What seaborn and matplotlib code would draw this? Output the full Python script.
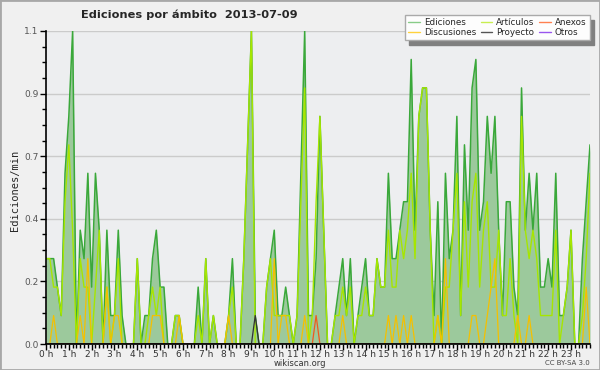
"""Ediciones por ámbito: edits per minute on 2013-07-09, 10-minute bins"""
import matplotlib

matplotlib.use("Agg")
from matplotlib import pyplot as plt
from matplotlib.lines import Line2D
from matplotlib.patches import Rectangle
from matplotlib.ticker import MultipleLocator
import numpy as np
import pandas as pd
import seaborn as sns

# one value per 10-minute bin, 6 bins per hour (rows = hours)
ediciones = [
    0.3, 0.3, 0.3, 0.2, 0.1, 0.6,  # 0 h
    0.8, 1.1, 0.0, 0.4, 0.3, 0.6,  # 1 h
    0.2, 0.6, 0.4, 0.0, 0.4, 0.1,  # 2 h
    0.1, 0.4, 0.1, 0.0, 0.0, 0.0,  # 3 h
    0.3, 0.0, 0.1, 0.1, 0.3, 0.4,  # 4 h
    0.2, 0.2, 0.0, 0.0, 0.1, 0.1,  # 5 h
    0.0, 0.0, 0.0, 0.0, 0.2, 0.0,  # 6 h
    0.3, 0.0, 0.1, 0.0, 0.0, 0.0,  # 7 h
    0.1, 0.3, 0.0, 0.0, 0.3, 0.7,  # 8 h
    1.1, 0.1, 0.0, 0.0, 0.2, 0.3,  # 9 h
    0.4, 0.1, 0.1, 0.2, 0.1, 0.0,  # 10 h
    0.1, 0.6, 1.1, 0.1, 0.1, 0.3,  # 11 h
    0.8, 0.4, 0.0, 0.0, 0.1, 0.2,  # 12 h
    0.3, 0.1, 0.3, 0.0, 0.1, 0.2,  # 13 h
    0.3, 0.1, 0.1, 0.3, 0.2, 0.2,  # 14 h
    0.6, 0.3, 0.3, 0.4, 0.5, 0.5,  # 15 h
    1.0, 0.4, 0.8, 0.9, 0.9, 0.4,  # 16 h
    0.1, 0.5, 0.0, 0.6, 0.3, 0.4,  # 17 h
    0.8, 0.1, 0.7, 0.4, 0.9, 1.0,  # 18 h
    0.4, 0.5, 0.8, 0.6, 0.8, 0.4,  # 19 h
    0.1, 0.5, 0.5, 0.2, 0.1, 0.9,  # 20 h
    0.4, 0.6, 0.4, 0.6, 0.2, 0.2,  # 21 h
    0.3, 0.2, 0.6, 0.1, 0.1, 0.2,  # 22 h
    0.4, 0.0, 0.0, 0.3, 0.5, 0.7,  # 23 h
]
articulos = [
    0.3, 0.3, 0.2, 0.2, 0.1, 0.5,
    0.7, 0.4, 0.0, 0.3, 0.2, 0.2,
    0.0, 0.2, 0.4, 0.0, 0.2, 0.0,
    0.1, 0.3, 0.0, 0.0, 0.0, 0.0,
    0.3, 0.0, 0.0, 0.1, 0.2, 0.1,
    0.2, 0.0, 0.0, 0.0, 0.1, 0.1,
    0.0, 0.0, 0.0, 0.0, 0.1, 0.0,
    0.3, 0.0, 0.1, 0.0, 0.0, 0.0,
    0.1, 0.2, 0.0, 0.0, 0.3, 0.7,
    1.1, 0.0, 0.0, 0.0, 0.2, 0.3,
    0.1, 0.1, 0.1, 0.1, 0.1, 0.0,
    0.1, 0.5, 0.9, 0.0, 0.1, 0.5,
    0.8, 0.4, 0.0, 0.0, 0.1, 0.1,
    0.2, 0.1, 0.2, 0.0, 0.1, 0.1,
    0.2, 0.1, 0.1, 0.3, 0.2, 0.2,
    0.4, 0.2, 0.2, 0.4, 0.3, 0.4,
    0.6, 0.3, 0.8, 0.9, 0.9, 0.4,
    0.0, 0.1, 0.0, 0.2, 0.2, 0.4,
    0.6, 0.1, 0.5, 0.2, 0.5, 0.6,
    0.2, 0.4, 0.5, 0.2, 0.2, 0.4,
    0.1, 0.1, 0.3, 0.1, 0.0, 0.8,
    0.4, 0.3, 0.4, 0.3, 0.1, 0.1,
    0.1, 0.1, 0.4, 0.0, 0.1, 0.2,
    0.4, 0.0, 0.0, 0.1, 0.3, 0.6,
]
discusiones = [
    0.0, 0.0, 0.1, 0.0, 0.0, 0.0,
    0.0, 0.0, 0.0, 0.1, 0.0, 0.3,
    0.0, 0.0, 0.0, 0.0, 0.2, 0.0,
    0.1, 0.1, 0.0, 0.0, 0.0, 0.0,
    0.0, 0.0, 0.0, 0.0, 0.1, 0.1,
    0.1, 0.0, 0.0, 0.0, 0.0, 0.1,
    0.0, 0.0, 0.0, 0.0, 0.0, 0.0,
    0.0, 0.0, 0.0, 0.0, 0.0, 0.0,
    0.1, 0.0, 0.0, 0.0, 0.0, 0.0,
    0.0, 0.0, 0.0, 0.0, 0.0, 0.0,
    0.3, 0.0, 0.1, 0.1, 0.0, 0.0,
    0.0, 0.0, 0.1, 0.0, 0.0, 0.0,
    0.0, 0.0, 0.0, 0.0, 0.0, 0.0,
    0.1, 0.0, 0.0, 0.0, 0.0, 0.0,
    0.0, 0.0, 0.0, 0.0, 0.0, 0.0,
    0.1, 0.0, 0.1, 0.0, 0.1, 0.0,
    0.1, 0.0, 0.0, 0.0, 0.0, 0.0,
    0.0, 0.1, 0.0, 0.3, 0.0, 0.0,
    0.0, 0.0, 0.0, 0.0, 0.1, 0.1,
    0.0, 0.0, 0.1, 0.2, 0.3, 0.0,
    0.0, 0.0, 0.0, 0.0, 0.1, 0.0,
    0.0, 0.1, 0.0, 0.0, 0.0, 0.0,
    0.0, 0.0, 0.0, 0.0, 0.0, 0.0,
    0.0, 0.0, 0.0, 0.0, 0.2, 0.0,
]
# sparse series: bin index -> value, every other bin is 0
anexos_nonzero = {71: 0.1}
proyecto_nonzero = {55: 0.1}
otros_nonzero = {}

hour_labels = [f"{h} h" for h in range(24)]

bins = np.arange(len(ediciones))
df = pd.DataFrame(
    {
        "bin": bins,
        "Ediciones": ediciones,
        "Artículos": articulos,
        "Discusiones": discusiones,
        "Anexos": [anexos_nonzero.get(i, 0.0) for i in bins],
        "Proyecto": [proyecto_nonzero.get(i, 0.0) for i in bins],
        "Otros": [otros_nonzero.get(i, 0.0) for i in bins],
    }
)

sns.set_style("ticks")
plt.rcParams["font.family"] = ["DejaVu Sans"]

fig = plt.figure(figsize=(6, 3.7), dpi=100, facecolor="#f0f0f0")
fig.patches.append(
    Rectangle((0, 0), 1, 1, transform=fig.transFigure, fill=False,
              edgecolor="#a8a8a8", lw=2)
)
ax = fig.add_axes([46 / 600, 26 / 370, 544 / 600, 313 / 370])
ax.set_facecolor("#edeef0")

ax.fill_between(df["bin"], df["Ediciones"], color="#9cc99c", lw=0, zorder=2)
lines = [
    ("Ediciones", "#3aa83a", 1.1),
    ("Artículos", "#a6e600", 1.0),
    ("Discusiones", "#f5c000", 0.9),
    ("Anexos", "#f05a1e", 0.9),
    ("Proyecto", "#333333", 0.9),
    ("Otros", "#9933ee", 0.9),
]
for col, color, lw in lines:
    sns.lineplot(data=df, x="bin", y=col, color=color, lw=lw, ax=ax,
                 zorder=3, legend=False)

ax.set_xlim(0, len(ediciones) - 1)
ax.set_ylim(0, 1.1)
yticks = np.linspace(0, 1.1, 6)
ax.set_yticks(yticks)
ax.set_yticklabels([f"{v:.1f}" for v in yticks])
ax.yaxis.set_minor_locator(MultipleLocator(0.055))
ax.set_xticks(np.arange(0, 144, 6))
ax.set_xticklabels(hour_labels)
ax.xaxis.set_minor_locator(MultipleLocator(1))
ax.set_xlabel("")
ax.set_ylabel("")
ax.grid(axis="y", color="#cbcbcb", lw=1, zorder=1)
ax.set_axisbelow(True)
for side in ("top", "right"):
    ax.spines[side].set_visible(False)
for side in ("left", "bottom"):
    ax.spines[side].set_color("black")
    ax.spines[side].set_linewidth(1.2)
    ax.spines[side].set_zorder(5)
ax.tick_params(axis="both", which="major", length=4.5, width=1, color="black",
               pad=1)
ax.tick_params(axis="both", which="minor", length=3, width=1, color="black")
ax.tick_params(axis="y", labelsize=6.5, labelcolor="#555555")
ax.tick_params(axis="x", labelsize=6.5, labelcolor="#333333", pad=-0.5)

fig.text(189 / 600, 1 - 15 / 370, "Ediciones por ámbito  2013-07-09",
         ha="center", va="center", fontsize=8.2, fontweight="bold")
fig.text(15 / 600, 1 - 190 / 370, "Ediciones/min", rotation=90,
         family="DejaVu Sans Mono", fontsize=7.5, ha="center", va="center")
fig.text(300 / 600, 1 - 363 / 370, "wikiscan.org", ha="center", va="center",
         fontsize=6, color="#333333")
fig.text(590 / 600, 1 - 363 / 370, "CC BY-SA 3.0", ha="right", va="center",
         fontsize=5, color="#444444")

legend_colors = {
    "Ediciones": "#88cc88",
    "Discusiones": "#ffd23c",
    "Artículos": "#c8ee50",
    "Proyecto": "#555555",
    "Anexos": "#ff8050",
    "Otros": "#9955ee",
}
handles = [Line2D([], [], color=c, lw=1) for c in legend_colors.values()]
fig.legend(handles, list(legend_colors.keys()), ncol=3, loc="upper right",
           bbox_to_anchor=(594 / 600, 1 - 11 / 370), fontsize=6.3,
           frameon=True, fancybox=False, edgecolor="#aaaaaa",
           facecolor="#fdfdfd", framealpha=1,
           shadow={"ox": 3, "oy": -3, "color": "#808080", "alpha": 1.0},
           handlelength=1.3, handletextpad=0.5, columnspacing=0.5,
           labelspacing=0.1, borderpad=0.35)

plt.savefig("out.png", dpi=100, facecolor=fig.get_facecolor())
